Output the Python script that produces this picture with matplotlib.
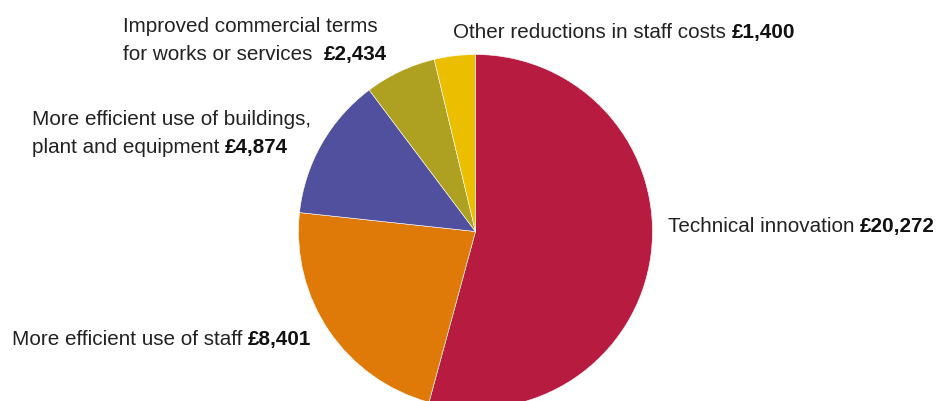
import matplotlib.pyplot as plt

# savings by category (GBP)
labels = ['Technical innovation', 'More efficient use of staff',
          'More efficient use of buildings,\nplant and equipment',
          'Improved commercial terms\nfor works or services',
          'Other reductions in staff costs']
values = [20272, 8401, 4874, 2434, 1400]
colors = ['#B71C40', '#DF7A08', '#50509E', '#AEA021', '#ECBE00']

W, H = 939, 401
fig = plt.figure(figsize=(W / 100, H / 100), dpi=100)
ax = fig.add_axes([0, 0, 1, 1])

ax.pie(values, colors=colors, startangle=90, counterclock=False,
       center=(475.5, H - 231.5), radius=177, frame=True,
       wedgeprops=dict(edgecolor='white', linewidth=0.4))
ax.set_xlim(0, W)
ax.set_ylim(0, H)
ax.axis('off')

FONT = 'Liberation Sans'
SIZE = 14.9
renderer = fig.canvas.get_renderer()


def label(x, y, text, value=None, gap=' '):
    '''Normal text, optionally followed by a bold value on the same line.
    x,y are pixel positions from top-left (y = line centre)
    '''
    base = H - y - 7
    t = ax.text(x, base, text + (gap if value else ''), fontsize=SIZE,
                family=FONT, color='#222222', va='baseline', ha='left')
    if value is None:
        return
    bb = t.get_window_extent(renderer=renderer)
    x2 = ax.transData.inverted().transform((bb.x1, 0))[0]
    ax.text(x2, base, '£{:,}'.format(value), fontsize=SIZE, family=FONT,
            weight='bold', color='#111111', va='baseline', ha='left')


label(668, 225, labels[0], values[0])
label(12, 338, labels[1], values[1])
label(32, 118, labels[2].split('\n')[0])
label(32, 146, labels[2].split('\n')[1], values[2])
label(123, 25, labels[3].split('\n')[0])
label(123, 53, labels[3].split('\n')[1], values[3], gap='  ')
label(453, 31, labels[4], values[4])

fig.savefig('out.png', dpi=100)
